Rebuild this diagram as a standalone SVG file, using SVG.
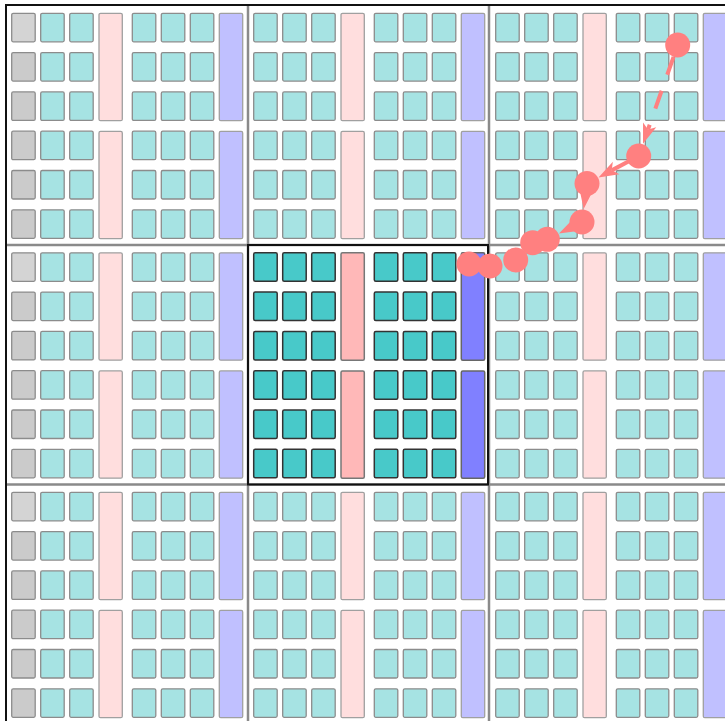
<svg xmlns="http://www.w3.org/2000/svg" xmlns:xlink="http://www.w3.org/1999/xlink" width="725" height="721" viewBox="0 0 725 721">
<style>
.lt{fill:#a6e3e3;stroke:#8c8c8c;stroke-width:1.3}
.lg{fill:#cbcbcb;stroke:#8c8c8c;stroke-width:1.3}
.lg0{fill:#d4d4d4;stroke:#8c8c8c;stroke-width:1.3}
.lp{fill:#ffdede;stroke:#a0a0a0;stroke-width:1.3}
.lb{fill:#c0c0ff;stroke:#a0a0a0;stroke-width:1.3}
.dt{fill:#48c9c9;stroke:#333;stroke-width:1.5}
.dp{fill:#ffb8b8;stroke:#777;stroke-width:1.5}
.db{fill:#8080ff;stroke:#666;stroke-width:1.5}
.grid{stroke:#8a8a8a;stroke-width:2.5;fill:none}
.frame{stroke:#111;stroke-width:2;fill:none}
.conn{stroke:#ff8080;stroke-width:4;fill:none;marker-end:url(#ah)}
.dash{stroke-dasharray:19 17}
.node{fill:#ff8080}
</style>
<defs>
<marker id="ah" markerUnits="userSpaceOnUse" markerWidth="20" markerHeight="14" refX="5" refY="7" orient="auto" overflow="visible">
<path d="M0,0 L20,7 L0,14 L5,7 Z" fill="#ff8080"/>
</marker>
<g id="col0">
<rect x="5.7" y="8.3" width="23.5" height="28.5" rx="1.5"/>
<rect x="5.7" y="47.6" width="23.5" height="28.5" rx="1.5"/>
<rect x="5.7" y="86.9" width="23.5" height="28.5" rx="1.5"/>
<rect x="5.7" y="126.2" width="23.5" height="28.5" rx="1.5"/>
<rect x="5.7" y="165.5" width="23.5" height="28.5" rx="1.5"/>
<rect x="5.7" y="204.8" width="23.5" height="28.5" rx="1.5"/>
</g>
<g id="col0b">
<rect x="5.7" y="47.6" width="23.5" height="28.5" rx="1.5"/>
<rect x="5.7" y="86.9" width="23.5" height="28.5" rx="1.5"/>
<rect x="5.7" y="126.2" width="23.5" height="28.5" rx="1.5"/>
<rect x="5.7" y="165.5" width="23.5" height="28.5" rx="1.5"/>
<rect x="5.7" y="204.8" width="23.5" height="28.5" rx="1.5"/>
</g>
<g id="col">
<rect x="0" y="8.3" width="23.5" height="28.5" rx="1.5"/>
<rect x="0" y="47.6" width="23.5" height="28.5" rx="1.5"/>
<rect x="0" y="86.9" width="23.5" height="28.5" rx="1.5"/>
<rect x="0" y="126.2" width="23.5" height="28.5" rx="1.5"/>
<rect x="0" y="165.5" width="23.5" height="28.5" rx="1.5"/>
<rect x="0" y="204.8" width="23.5" height="28.5" rx="1.5"/>
</g>
<g id="cells">
<use xlink:href="#col" x="34.7"/>
<use xlink:href="#col" x="63.7"/>
<use xlink:href="#col" x="126.3"/>
<use xlink:href="#col" x="155.3"/>
<use xlink:href="#col" x="184.3"/>
</g>
<g id="barsP">
<rect x="93" y="8.3" width="23.3" height="107.4" rx="1.5"/>
<rect x="93" y="126.4" width="23.3" height="107.3" rx="1.5"/>
</g>
<g id="barsB">
<rect x="213.3" y="8.3" width="23.4" height="107.4" rx="1.5"/>
<rect x="213.3" y="126.4" width="23.4" height="107.3" rx="1.5"/>
</g>
</defs>
<rect width="725" height="721" fill="#fff"/>
<g id="tile-0-0" transform="translate(6,5)">
<rect class="lg0" x="5.7" y="8.3" width="23.5" height="28.5" rx="1.5"/>
<use xlink:href="#col0b" class="lg"/><use xlink:href="#cells" class="lt"/><use xlink:href="#barsP" class="lp"/><use xlink:href="#barsB" class="lb"/>
</g>
<g id="tile-1-0" transform="translate(248,5)">
<use xlink:href="#col0" class="lt"/><use xlink:href="#cells" class="lt"/><use xlink:href="#barsP" class="lp"/><use xlink:href="#barsB" class="lb"/>
</g>
<g id="tile-2-0" transform="translate(490,5)">
<use xlink:href="#col0" class="lt"/><use xlink:href="#cells" class="lt"/><use xlink:href="#barsP" class="lp"/><use xlink:href="#barsB" class="lb"/>
</g>
<g id="tile-0-1" transform="translate(6,244.5)">
<rect class="lg0" x="5.7" y="8.3" width="23.5" height="28.5" rx="1.5"/>
<use xlink:href="#col0b" class="lg"/><use xlink:href="#cells" class="lt"/><use xlink:href="#barsP" class="lp"/><use xlink:href="#barsB" class="lb"/>
</g>
<g id="tile-1-1" transform="translate(248,244.5)">
<use xlink:href="#col0" class="dt"/><use xlink:href="#cells" class="dt"/><use xlink:href="#barsP" class="dp"/><use xlink:href="#barsB" class="db"/>
</g>
<g id="tile-2-1" transform="translate(490,244.5)">
<use xlink:href="#col0" class="lt"/><use xlink:href="#cells" class="lt"/><use xlink:href="#barsP" class="lp"/><use xlink:href="#barsB" class="lb"/>
</g>
<g id="tile-0-2" transform="translate(6,484)">
<rect class="lg0" x="5.7" y="8.3" width="23.5" height="28.5" rx="1.5"/>
<use xlink:href="#col0b" class="lg"/><use xlink:href="#cells" class="lt"/><use xlink:href="#barsP" class="lp"/><use xlink:href="#barsB" class="lb"/>
</g>
<g id="tile-1-2" transform="translate(248,484)">
<use xlink:href="#col0" class="lt"/><use xlink:href="#cells" class="lt"/><use xlink:href="#barsP" class="lp"/><use xlink:href="#barsB" class="lb"/>
</g>
<g id="tile-2-2" transform="translate(490,484)">
<use xlink:href="#col0" class="lt"/><use xlink:href="#cells" class="lt"/><use xlink:href="#barsP" class="lp"/><use xlink:href="#barsB" class="lb"/>
</g>
<g id="grid">
<path class="grid" d="M248,5 V721 M489,5 V721 M6,245 H725 M6,484.5 H725"/>
<path class="frame" d="M6,721 V5 H725"/>
<rect class="frame" x="248" y="245" width="240" height="239.5"/>
</g>
<g id="connectors">
<path class="conn dash" d="M673.56,56.79 L647.98,129.58"/>
<path class="conn" d="M638.7,156 L611.72,170.36"/>
<path class="conn" d="M587,183.5 L585.6,194.23"/>
<path class="conn" d="M582,222 L572.36,226.81"/>
</g>
<g id="n1"><circle class="node" cx="677.7" cy="45" r="12.5"/></g>
<g id="n2"><circle class="node" cx="638.7" cy="156" r="12.5"/></g>
<g id="n3"><circle class="node" cx="587" cy="183.5" r="12.5"/></g>
<g id="n4"><circle class="node" cx="582" cy="222" r="12.5"/></g>
<g id="n5"><circle class="node" cx="547.3" cy="239.3" r="12.5"/></g>
<g id="n6"><circle class="node" cx="532.7" cy="242.7" r="12.5"/></g>
<g id="n7"><circle class="node" cx="515.7" cy="260" r="12.5"/></g>
<g id="n8"><circle class="node" cx="490" cy="266" r="12.5"/></g>
<g id="n9"><circle class="node" cx="469" cy="264" r="12.5"/></g>
</svg>
